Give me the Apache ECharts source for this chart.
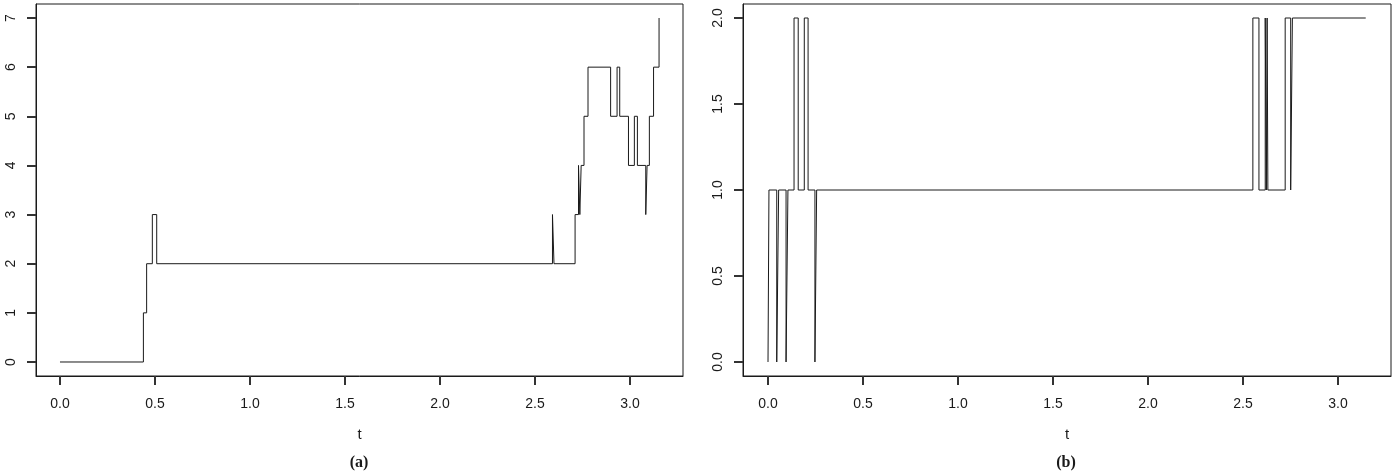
<!DOCTYPE html>
<html>
<head>
<meta charset="utf-8">
<script src="https://cdn.jsdelivr.net/npm/echarts@6/dist/echarts.min.js"></script>
<style>
  html, body { margin: 0; padding: 0; background: #fff; }
  #chart { width: 1395px; height: 475px; }
</style>
</head>
<body>
<div id="chart"></div>
<script>
// panel (a): jump times and the value held from each time on
var timesA = [0, 0.439, 0.456, 0.486, 0.509, 2.592, 2.600, 2.711, 2.729, 2.736, 2.743, 2.758,
              2.779, 2.898, 2.932, 2.946, 2.992, 3.023, 3.039, 3.083, 3.090, 3.102, 3.124, 3.153];
var valuesA = [0, 1, 2, 3, 2, 3, 2, 3, 4, 3, 4, 5,
               6, 5, 6, 5, 4, 5, 4, 3, 4, 5, 6, 7];

// panel (b)
var timesB = [0, 0.005, 0.046, 0.056, 0.095, 0.105, 0.137, 0.159, 0.191, 0.211, 0.247, 0.256,
              2.552, 2.584, 2.617, 2.623, 2.627, 2.631, 2.722, 2.751, 2.760, 3.146];
var valuesB = [0, 1, 0, 1, 0, 1, 2, 1, 2, 1, 0, 1,
               2, 1, 2, 1, 2, 1, 2, 1, 2, 2];

// tick positions
var xTicks = [0, 0.5, 1, 1.5, 2, 2.5, 3];
var yTicksA = [0, 1, 2, 3, 4, 5, 6, 7];
var yTicksB = [0, 0.5, 1, 1.5, 2];

// plot region ranges (R style 4% padding around the data)
var xRangeA = [-0.1263, 3.279];
var yRangeA = [-0.285, 7.285];
var xRangeB = [-0.1316, 3.279];
var yRangeB = [-0.0814, 2.0814];

function pairs(ts, vs) {
    var out = [];
    for (var i = 0; i < ts.length; i++) out.push([ts[i], vs[i]]);
    return out;
}

var ink = '#1a1a1a';
var labelFont = { color: ink, fontSize: 14, fontFamily: 'Liberation Sans' };

function xAxisFor(idx, range) {
    return {
        gridIndex: idx, type: 'value', min: range[0], max: range[1],
        name: 't', nameLocation: 'middle', nameGap: 51,
        nameTextStyle: { color: ink, fontSize: 15, fontFamily: 'Liberation Sans' },
        axisLine: { show: true, onZero: false, lineStyle: { color: ink, width: 1 } },
        axisTick: { show: true, length: 9, customValues: xTicks, lineStyle: { color: '#333', width: 2 } },
        axisLabel: Object.assign({ margin: 21, customValues: xTicks,
            formatter: function (v) { return v.toFixed(1); } }, labelFont),
        splitLine: { show: false }
    };
}

function yAxisFor(idx, range, ticks, decimals) {
    return {
        gridIndex: idx, type: 'value', min: range[0], max: range[1],
        axisLine: { show: true, onZero: false, lineStyle: { color: ink, width: 1 } },
        axisTick: { show: true, length: 9, customValues: ticks, lineStyle: { color: '#333', width: 2 } },
        axisLabel: Object.assign({ margin: 18, rotate: 90, customValues: ticks,
            formatter: function (v) { return v.toFixed(decimals); } }, labelFont),
        splitLine: { show: false }
    };
}

var option = {
    animation: false,
    backgroundColor: '#fff',
    grid: [
        { left: 36, right: 712, top: 4, bottom: 99, show: true, borderColor: ink, borderWidth: 1, backgroundColor: 'transparent' },
        { left: 743, right: 4, top: 4, bottom: 99, show: true, borderColor: ink, borderWidth: 1, backgroundColor: 'transparent' }
    ],
    xAxis: [xAxisFor(0, xRangeA), xAxisFor(1, xRangeB)],
    yAxis: [yAxisFor(0, yRangeA, yTicksA, 0), yAxisFor(1, yRangeB, yTicksB, 1)],
    graphic: [
        { type: 'text', x: 359, y: 463,
          style: { text: '(a)', fill: ink, align: 'center', verticalAlign: 'middle', font: 'bold 16px "Liberation Serif"' } },
        { type: 'text', x: 1066, y: 463,
          style: { text: '(b)', fill: ink, align: 'center', verticalAlign: 'middle', font: 'bold 16px "Liberation Serif"' } }
    ],
    series: [
        {
            type: 'line', xAxisIndex: 0, yAxisIndex: 0, step: 'end',
            data: pairs(timesA, valuesA), showSymbol: false,
            lineStyle: { color: ink, width: 1 }
        },
        {
            type: 'line', xAxisIndex: 1, yAxisIndex: 1, step: 'end',
            data: pairs(timesB, valuesB), showSymbol: false,
            lineStyle: { color: ink, width: 1 }
        }
    ]
};

var myChart = echarts.init(document.getElementById('chart'));
myChart.setOption(option);
</script>
</body>
</html>
